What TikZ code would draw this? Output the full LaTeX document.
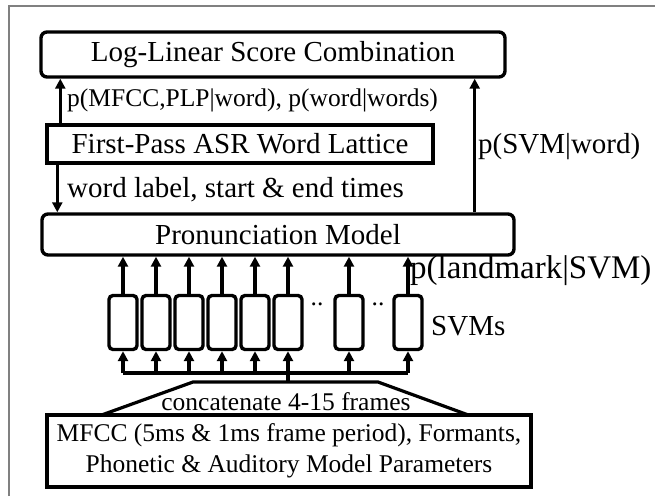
\documentclass[tikz,border=0pt]{standalone}
\usepackage{fontspec}
\setmainfont{Liberation Serif}
\usetikzlibrary{arrows.meta,calc}
\begin{document}
\begin{tikzpicture}[x=1pt,y=-1pt,
  big/.style={font=\fontsize{29}{33}\selectfont},
  small/.style={font=\fontsize{25.5}{31}\selectfont},
  rbox/.style={draw, line width=3.4pt, rounded corners=6pt, inner sep=0pt},
  sbox/.style={draw, line width=3.4pt, inner sep=0pt},
  svmbox/.style={draw, line width=3.4pt, rounded corners=4pt, minimum width=28pt, minimum height=54pt, inner sep=0pt},
  arr/.style={line width=3.2pt, -{Triangle[length=10pt,width=10pt]}},
  ln/.style={line width=3.2pt, line join=round},
  lbl/.style={inner sep=0pt}]
\useasboundingbox (0,0) rectangle (655,496);
\draw[gray, line width=2.2pt] (9,496) -- (9,6) -- (655,6);

\node[rbox, big, minimum width=464pt, minimum height=45pt] (ll) at (273,54.5) {Log-Linear Score Combination};
\node[sbox, big, minimum width=386pt, minimum height=38pt] (fp) at (240,144) {First-Pass ASR Word Lattice};
\node[rbox, big, minimum width=472pt, minimum height=41pt] (pm) at (278,234.5) {Pronunciation Model};
\node[sbox, small, minimum width=484pt, minimum height=72pt, align=center] (mf) at (289,451) {MFCC (5ms \& 1ms frame period), Formants,\\Phonetic \& Auditory Model Parameters};

\node[small, lbl, anchor=west] (l1) at (67,100) {p(MFCC,PLP|word), p(word|words)};
\node[big, lbl, anchor=west] (l2) at (478,147) {p(SVM|word)};
\node[big, lbl, anchor=west] (l3) at (67,190) {word label, start \& end times};
\node[font=\fontsize{33}{37}\selectfont, lbl, anchor=west] (l4) at (410,271) {p(landmark|SVM)};
\node[big, lbl, anchor=west] (l5) at (431,326) {SVMs};
\node[small, lbl] (l6) at (286,402) {concatenate 4-15 frames};

\coordinate (a1) at ([xshift=15pt]fp.north west);
\draw[arr] (a1) -- (a1 |- ll.south);
\coordinate (a2) at ([xshift=12pt]fp.south west);
\draw[arr] (a2) -- (a2 |- pm.north);
\coordinate (a3) at ([xshift=-41pt]pm.north east);
\draw[arr] (a3) -- (a3 |- ll.south);

\coordinate (bus) at (288,373);
\coordinate (tz) at (288,382);
\foreach \x [count=\i] in {123,156,189,222,255,288,349,408} {
  \node[svmbox] (s\i) at (\x,322.5) {};
  \draw[arr] (s\i.north) -- (s\i.north |- pm.south);
  \draw[arr] (s\i.south |- bus) -- (s\i.south);
}
\draw[ln] (s1.south |- bus) -- (s8.south |- bus);
\draw[ln] (tz) -- (bus);
\coordinate (t1) at (103,414.5);
\coordinate (t2) at (193,382);
\coordinate (t3) at (378,382);
\coordinate (t4) at (467,414.5);
\draw[ln] (t1) -- (t2) -- (t3) -- (t4);

\node[small, lbl, anchor=base] (d1) at (317,305) {..};
\node[small, lbl, anchor=base] (d2) at (378,305) {..};
\end{tikzpicture}
\end{document}
